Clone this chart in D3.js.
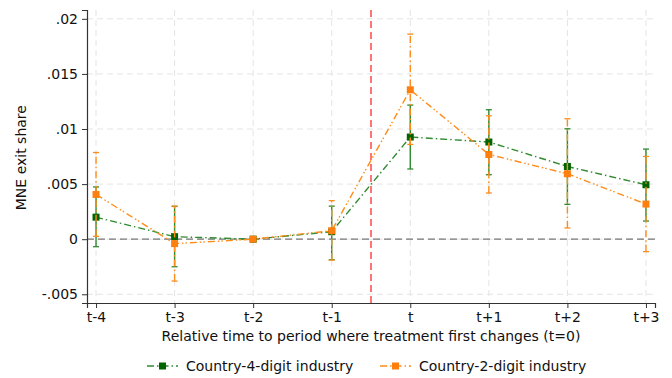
<!DOCTYPE html>
<html>
<head>
<meta charset="utf-8">
<script src="https://cdn.jsdelivr.net/npm/d3@7"></script>
<style>
  body { margin: 0; background: #fff; }
  text { font-family: "DejaVu Sans", sans-serif; }
</style>
</head>
<body>
<div id="chart"></div>
<script>
// data
var periods = ["t-4", "t-3", "t-2", "t-1", "t", "t+1", "t+2", "t+3"];
var relTime = [-4, -3, -2, -1, 0, 1, 2, 3];

var est4 = [0.0020, 0.00023, 0, 0.00068, 0.00927, 0.00882, 0.0066, 0.00494];
var lo4  = [-0.00068, -0.0025, 0, -0.00186, 0.00637, 0.00585, 0.00316, 0.00165];
var hi4  = [0.00474, 0.00298, 0, 0.0030, 0.01217, 0.01175, 0.01002, 0.00818];

var est2 = [0.00406, -0.0004, 0, 0.00077, 0.01356, 0.00769, 0.00594, 0.00319];
var lo2  = [0.00026, -0.0038, 0, -0.0019, 0.0086, 0.00419, 0.00102, -0.00113];
var hi2  = [0.00787, 0.0030, 0, 0.0035, 0.01861, 0.0112, 0.01093, 0.00751];

var yTicks = [-0.005, 0, 0.005, 0.01, 0.015, 0.02];
var yTickLabels = ["-.005", "0", ".005", ".01", ".015", ".02"];

var W = 672, H = 378;
var margin = {top: 10, right: 17, bottom: 75, left: 87};
var width = W - margin.left - margin.right,
    height = H - margin.top - margin.bottom;

var svg = d3.select("#chart").append("svg")
    .attr("width", W).attr("height", H)
  .append("g")
    .attr("transform", "translate(" + margin.left + "," + margin.top + ")");

var x = d3.scaleLinear().domain([-4.115, 3.115]).range([0, width]);
var y = d3.scaleLinear().domain([-0.00579, 0.0208]).range([height, 0]);

// gridlines
svg.append("g").selectAll("line").data(yTicks).enter().append("line")
    .attr("x1", 0).attr("x2", width)
    .attr("y1", function(d) { return y(d); }).attr("y2", function(d) { return y(d); })
    .attr("stroke", "#e4e4e4").attr("stroke-width", 1).attr("stroke-dasharray", "6,4");
svg.append("g").selectAll("line").data(relTime).enter().append("line")
    .attr("x1", function(d) { return x(d); }).attr("x2", function(d) { return x(d); })
    .attr("y1", 0).attr("y2", height)
    .attr("stroke", "#e4e4e4").attr("stroke-width", 1).attr("stroke-dasharray", "6,4");

// zero line
svg.append("line")
    .attr("x1", 0).attr("x2", width).attr("y1", y(0)).attr("y2", y(0))
    .attr("stroke", "#777").attr("stroke-width", 1.3).attr("stroke-dasharray", "7,4");

// treatment line
svg.append("line")
    .attr("x1", x(-0.5)).attr("x2", x(-0.5)).attr("y1", 0).attr("y2", height)
    .attr("stroke", "#ff3b3b").attr("stroke-width", 1.4).attr("stroke-dasharray", "7,4");

function drawSeries(est, lo, hi, lineColor, markColor, dash, barDash) {
  var pts = relTime.map(function(t, i) { return {t: t, v: est[i], lo: lo[i], hi: hi[i]}; });
  var g = svg.append("g");
  var bars = pts.filter(function(d) { return d.hi !== d.lo; });
  g.selectAll(".bar").data(bars).enter().append("line")
      .attr("x1", function(d) { return x(d.t); }).attr("x2", function(d) { return x(d.t); })
      .attr("y1", function(d) { return y(d.lo); }).attr("y2", function(d) { return y(d.hi); })
      .attr("stroke", lineColor).attr("stroke-width", 1.4).attr("stroke-dasharray", barDash);
  ["lo", "hi"].forEach(function(k) {
    g.selectAll(".cap" + k).data(bars).enter().append("line")
        .attr("x1", function(d) { return x(d.t) - 3; }).attr("x2", function(d) { return x(d.t) + 3; })
        .attr("y1", function(d) { return y(d[k]); }).attr("y2", function(d) { return y(d[k]); })
        .attr("stroke", lineColor).attr("stroke-width", 1.3);
  });
  var line = d3.line().x(function(d) { return x(d.t); }).y(function(d) { return y(d.v); });
  g.append("path").datum(pts).attr("d", line)
      .attr("fill", "none").attr("stroke", lineColor).attr("stroke-width", 1.4)
      .attr("stroke-dasharray", dash);
  g.selectAll("rect").data(pts).enter().append("rect")
      .attr("x", function(d) { return x(d.t) - 3.5; })
      .attr("y", function(d) { return y(d.v) - 3.5; })
      .attr("width", 7).attr("height", 7).attr("fill", markColor);
}

drawSeries(est4, lo4, hi4, "#2e8b2e", "#006400", "7,3,1.5,3", "none");
drawSeries(est2, lo2, hi2, "#ff8c1a", "#ff7f0e", "7,3,1.5,2,1.5,3", "7,3,1.5,3");

// axes
var xAxis = svg.append("g")
    .attr("transform", "translate(0," + height + ")")
    .call(d3.axisBottom(x).tickValues(relTime).tickFormat(function(d, i) { return periods[i]; }).tickSizeOuter(0).tickSize(5).tickPadding(4));
var yAxis = svg.append("g")
    .call(d3.axisLeft(y).tickValues(yTicks).tickFormat(function(d, i) { return yTickLabels[i]; }).tickSizeOuter(0).tickSize(5).tickPadding(4));
[xAxis, yAxis].forEach(function(a) {
  a.select(".domain").attr("stroke", "#333").attr("stroke-width", 1.2);
  a.selectAll(".tick line").attr("stroke", "#333");
  a.selectAll("text").attr("font-size", 14).attr("fill", "#111")
      .attr("font-family", "DejaVu Sans, sans-serif");
});

// axis titles
svg.append("text")
    .attr("x", x(-0.5))
    .attr("y", height + 38)
    .attr("text-anchor", "middle").attr("font-size", 14).attr("fill", "#111")
    .text("Relative time to period where treatment first changes (t=0)");
svg.append("text")
    .attr("transform", "translate(" + (-61) + "," + (y(0.0074)) + ")rotate(-90)")
    .attr("text-anchor", "middle").attr("font-size", 14).attr("fill", "#111")
    .text("MNE exit share");

// legend
var legend = [
  {name: "Country-4-digit industry", line: "#2e8b2e", mark: "#006400", x: 147},
  {name: "Country-2-digit industry", line: "#ff8c1a", mark: "#ff7f0e", x: 380}
];
var lg = d3.select("svg").append("g");
legend.forEach(function(d) {
  var ly = 366;
  lg.append("line").attr("x1", d.x).attr("x2", d.x + 31).attr("y1", ly).attr("y2", ly)
      .attr("stroke", d.line).attr("stroke-width", 1.4).attr("stroke-dasharray", "7,3,1.5,3");
  lg.append("rect").attr("x", d.x + 12).attr("y", ly - 3.5).attr("width", 7).attr("height", 7)
      .attr("fill", d.mark);
  lg.append("text").attr("x", d.x + 39).attr("y", ly + 5)
      .attr("font-size", 14).attr("fill", "#111").text(d.name);
});
</script>
</body>
</html>
